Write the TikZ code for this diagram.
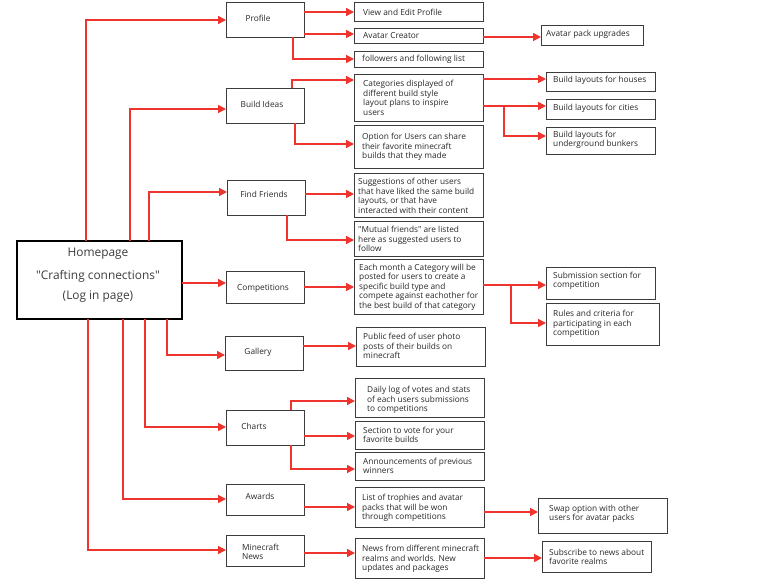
\documentclass[tikz,border=0pt]{standalone}
\usepackage{fontspec}
\setmainfont{Open Sans}[Ligatures=TeXOff]
\usetikzlibrary{arrows.meta,fit}
\definecolor{cred}{RGB}{238,52,44}
\definecolor{bord}{RGB}{60,60,60}
\definecolor{tcol}{RGB}{40,40,40}
\begin{document}
\begin{tikzpicture}[x=1pt,y=-1pt,
 box/.style={draw=bord, line width=0.9pt, inner sep=0pt, outer sep=0pt},
 hbox/.style={draw=black, line width=2.2pt, inner sep=0pt, outer sep=0pt},
 txt/.style={inner sep=0pt, align=left, font=\fontsize{8.3}{9.5}\selectfont, text=tcol, anchor=west},
 ctxt/.style={inner sep=0pt, align=center, font=\fontsize{8.3}{9.5}\selectfont, text=tcol},
 htxt/.style={inner sep=0pt, align=center, font=\fontsize{11.9}{13}\selectfont, text=tcol!90},
 conn/.style={draw=cred, line width=1.5pt, -{Triangle[length=8pt,width=8pt]}},
]
\useasboundingbox[fill=white] (0,0) rectangle (782,583);

% Homepage
\node[hbox, fit={(17,241) (182,319)}] (home) {};
\node[htxt] (homet1) at (98,254) {Homepage};
\node[htxt] (homet2) at (98,276) {"Crafting connections"};
\node[htxt] (homet3) at (98,297) {(Log in page)};

% Level 1
\node[box, fit={(226,2) (304,37)}] (prof) {};
\node[ctxt] (proft) at (258,18) {Profile};
\node[box, fit={(226,88) (304,123)}] (build) {};
\node[ctxt] (buildt) at (262,104) {Build Ideas};
\node[box, fit={(227,180) (305,215)}] (find) {};
\node[ctxt] (findt) at (264,194) {Find Friends};
\node[box, fit={(226,271) (304,303)}] (comp) {};
\node[ctxt] (compt) at (263,288) {Competitions};
\node[box, fit={(225,336) (303,370)}] (gal) {};
\node[ctxt] (galt) at (258,352) {Gallery};
\node[box, fit={(226,410) (304,445)}] (charts) {};
\node[ctxt] (chartst) at (254,426) {Charts};
\node[box, fit={(226,484) (304,515)}] (awards) {};
\node[ctxt] (awardst) at (260,496) {Awards};
\node[box, fit={(226,535) (304,566)}] (news) {};
\node[txt] (newst) at (242,552) {Minecraft\\News};

% Level 2
\node[box, fit={(354,2) (483,21)}] (view) {};
\node[txt] (viewt) at (363,12) {View and Edit Profile};
\node[box, fit={(354,28) (483,43)}] (avc) {};
\node[txt] (avct) at (363,36) {Avatar Creator};
\node[box, fit={(354,51) (483,67)}] (foll) {};
\node[txt] (follt) at (362,59) {followers and following list};
\node[box, fit={(354,74) (483,121)}] (cat) {};
\node[txt] (catt) at (363,98) {Categories displayed of\\different build style\\layout plans to inspire\\users};
\node[box, fit={(354,125) (483,168)}] (opt) {};
\node[txt] (optt) at (362,147) {Option for Users can share\\their favorite minecraft\\builds that they made};
\node[box, fit={(354,173) (483,217)}] (sug) {};
\node[txt] (sugt) at (358,196) {Suggestions of other users\\that have liked the same build\\layouts, or that have\\interacted with their content};
\node[box, fit={(354,221) (483,256)}] (mut) {};
\node[txt] (mutt) at (358,239) {"Mutual friends" are listed\\here as suggested users to\\follow};
\node[box, fit={(354,259) (483,314)}] (each) {};
\node[txt] (eacht) at (359,287) {Each month a Category will be\\posted for users to create a\\specific build type and\\compete against eachother for\\the best build of that category};
\node[box, fit={(356,327) (485,366)}] (pub) {};
\node[txt] (pubt) at (363,346) {Public feed of user photo\\posts of their builds on\\minecraft};
\node[box, fit={(355,378) (484,417)}] (daily) {};
\node[txt] (dailyt) at (367,400) {Daily log of votes and stats\\of each users submissions\\to competitions};
\node[box, fit={(355,421) (484,449)}] (sect) {};
\node[txt] (sectt) at (363,435) {Section to vote for your\\favorite builds};
\node[box, fit={(355,452) (484,480)}] (ann) {};
\node[txt] (annt) at (363,466) {Announcements of previous\\winners};
\node[box, fit={(355,487) (484,527)}] (list) {};
\node[txt] (listt) at (362,508) {List of trophies and avatar\\packs that will be won\\through competitions};
\node[box, fit={(355,538) (484,578)}] (nfrom) {};
\node[txt] (nfromt) at (362,559) {News from different minecraft\\realms and worlds. New\\updates and packages};

% Level 3
\node[box, fit={(541,25) (643,45)}] (apu) {};
\node[txt] (aput) at (546,34) {Avatar pack upgrades};
\node[box, fit={(546,72) (655,91)}] (hou) {};
\node[txt] (hout) at (553,80) {Build layouts for houses};
\node[box, fit={(546,99) (655,119)}] (cit) {};
\node[txt] (citt) at (553,108) {Build layouts for cities};
\node[box, fit={(546,127) (655,154)}] (bun) {};
\node[txt] (bunt) at (553,140) {Build layouts for\\underground bunkers};
\node[box, fit={(546,267) (655,299)}] (sub) {};
\node[txt] (subt) at (553,281) {Submission section for\\competition};
\node[box, fit={(546,303) (659,345)}] (rul) {};
\node[txt] (rult) at (553,324) {Rules and criteria for\\participating in each\\competition};
\node[box, fit={(538,498) (667,533)}] (swap) {};
\node[txt] (swapt) at (549,514) {Swap option with other\\users for avatar packs};
\node[box, fit={(542,541) (651,572)}] (subs) {};
\node[txt] (subst) at (549,557) {Subscribe to news about\\favorite realms};

\coordinate (br1) at (504,106);
\coordinate (br2) at (511,285);

% Connectors from homepage
\draw[conn] (home.north -| 86,0) |- (prof.west |- 0,20);
\draw[conn] (home.north -| 130,0) |- (build.west |- 0,109);
\draw[conn] (home.north -| 149,0) |- (find.west |- 0,192);
\draw[conn] (home.east |- 0,283) -- (comp.west |- 0,283);
\draw[conn] (home.south -| 167,0) |- (gal.west |- 0,355);
\draw[conn] (home.south -| 145,0) |- (charts.west |- 0,427);
\draw[conn] (home.south -| 123,0) |- (awards.west |- 0,499);
\draw[conn] (home.south -| 88,0) |- (news.west |- 0,550);
% Profile
\draw[conn] (prof.east |- 0,12) -- (view.west |- 0,12);
\draw[conn] (prof.east |- 0,34) -- (avc.west |- 0,34);
\draw[conn] (prof.south -| 293,0) |- (foll.west |- 0,59);
\draw[conn] (avc.east |- 0,37) -- (apu.west |- 0,37);
% Build ideas
\draw[conn] (build.north -| 292,0) |- (cat.west |- 0,80);
\draw[conn] (build.south -| 295,0) |- (opt.west |- 0,144);
\draw[conn] (cat.east |- 0,79) -- (hou.west |- 0,79);
\draw[conn] (cat.east |- 0,106) -- (cit.west |- 0,106);
\draw[conn] (br1) |- (bun.west |- 0,136);
% Find friends
\draw[conn] (find.east |- 0,194) -- (sug.west |- 0,194);
\draw[conn] (find.south -| 287,0) |- (mut.west |- 0,240);
% Competitions
\draw[conn] (comp.east |- 0,287) -- (each.west |- 0,287);
\draw[conn] (each.east |- 0,285) -- (sub.west |- 0,285);
\draw[conn] (br2) |- (rul.west |- 0,323);
% Gallery
\draw[conn] (gal.east |- 0,346) -- (pub.west |- 0,346);
% Charts
\draw[conn] (charts.north -| 291,0) |- (daily.west |- 0,401);
\draw[conn] (charts.east |- 0,436) -- (sect.west |- 0,436);
\draw[conn] (charts.south -| 291,0) |- (ann.west |- 0,469);
% Awards
\draw[conn] (awards.east |- 0,507) -- (list.west |- 0,507);
\draw[conn] (list.east |- 0,512) -- (swap.west |- 0,512);
% News
\draw[conn] (news.east |- 0,553) -- (nfrom.west |- 0,553);
\draw[conn] (nfrom.east |- 0,558) -- (subs.west |- 0,558);
\end{tikzpicture}
\end{document}
